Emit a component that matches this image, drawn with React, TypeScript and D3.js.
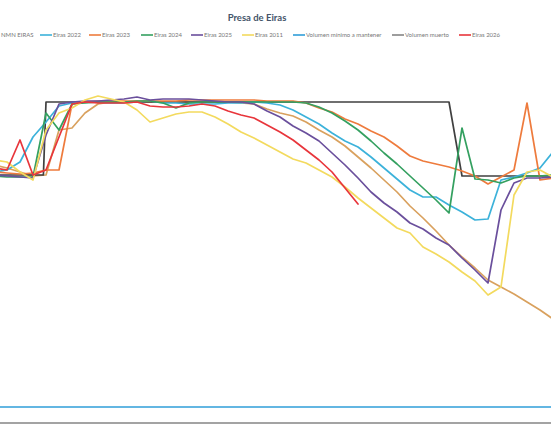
import React from 'react';
import * as d3 from 'd3';

// week index (x) for the weekly series
const WEEKS: number[] = d3.range(-1, 43);

const EIRAS_2017 = [26.6, 26.3, 25.9, 25.5, 25.6, 30.1, 30.3, 31.8, 32.7, 32.9, 32.9, 32.9, 32.9, 32.9, 32.9, 32.9, 32.9, 32.9, 32.9, 32.8, 32.7, 32.2, 31.8, 31.5, 30.9, 30.1, 29.4, 28.5, 27.4, 26.3, 25.1, 23.9, 22.5, 21.3, 20.0, 18.6, 17.4, 16.3, 15.1, 14.4, 13.7, 12.9, 12.1, 11.2];
const NMN_WEEKS = [-1, 2.8, 3, 34, 35, 42];
const NMN_VALUES = [25.6, 25.6, 32.9, 32.9, 25.5, 25.5];
const EIRAS_2022 = [25.9, 26.1, 26.9, 29.4, 30.9, 32.5, 32.8, 32.9, 32.9, 32.8, 32.8, 32.9, 33.0, 32.8, 32.8, 32.7, 32.7, 32.7, 32.8, 32.8, 32.9, 32.8, 32.6, 32.1, 31.4, 30.7, 29.8, 29.0, 28.4, 27.4, 26.3, 25.2, 24.1, 23.4, 23.4, 22.6, 21.9, 21.1, 21.2, 25.1, 25.4, 25.8, 26.3, 27.9];
const EIRAS_2023 = [25.9, 25.8, 25.7, 25.8, 26.1, 26.1, 32.7, 32.9, 33.0, 33.0, 33.0, 33.0, 33.0, 33.0, 33.0, 33.1, 33.1, 33.1, 33.1, 33.1, 33.1, 33.0, 33.0, 33.0, 32.8, 32.3, 31.9, 31.2, 30.7, 30.0, 29.4, 28.5, 27.5, 27.0, 26.7, 26.4, 26.0, 25.5, 24.7, 25.4, 26.1, 32.8, 25.1, 25.3];
const EIRAS_2024 = [25.5, 25.4, 25.4, 25.4, 31.8, 30.1, 32.7, 32.8, 32.9, 32.9, 32.9, 33.0, 33.0, 32.8, 32.3, 32.8, 32.9, 32.9, 32.9, 32.9, 32.9, 32.9, 32.9, 32.9, 32.8, 32.4, 31.8, 31.0, 30.1, 29.0, 27.8, 26.7, 25.5, 24.3, 23.1, 21.8, 30.3, 25.2, 25.1, 24.8, 25.3, 25.5, 25.5, 25.6];
const EIRAS_2025 = [25.6, 25.5, 25.4, 25.3, 29.6, 32.7, 32.9, 33.0, 33.0, 33.1, 33.2, 33.4, 33.1, 33.2, 33.2, 33.2, 33.1, 33.0, 32.9, 32.9, 32.7, 32.0, 31.4, 30.5, 29.8, 29.0, 27.8, 26.6, 25.3, 23.9, 22.8, 21.9, 20.8, 20.2, 19.3, 18.6, 17.3, 16.1, 14.8, 22.1, 24.8, 25.3, 25.3, 25.4];
const EIRAS_2011 = [27.1, 26.9, 25.9, 25.1, 30.1, 31.8, 32.3, 33.1, 33.5, 33.2, 32.9, 32.1, 30.9, 31.3, 31.7, 31.9, 31.9, 31.4, 30.7, 29.9, 29.3, 28.6, 27.9, 27.2, 26.8, 26.1, 25.4, 24.4, 23.3, 22.3, 21.3, 20.3, 19.8, 18.4, 17.7, 16.9, 15.9, 15.0, 13.6, 14.4, 23.6, 25.9, 26.1, 25.4];
const LIMIT_WEEKS = [-1, 42];
const VOL_MINIMO = [2.4, 2.4];
const VOL_MUERTO = [0.8, 0.8];
const EIRAS_2026 = [26.3, 26.1, 29.1, 25.6, 26.1, 29.4, 32.7, 32.9, 32.8, 32.8, 32.8, 32.9, 32.5, 32.4, 32.4, 32.5, 32.7, 32.5, 32.0, 31.6, 31.3, 30.6, 29.9, 29.1, 28.1, 27.1, 25.9, 24.3, 22.7];

const TITLE = 'Presa de Eiras';

type Series = { name: string; color: string; weeks: number[]; values: number[]; legendX: number | null };

export default function App() {
  const W = 551;
  const H = 431;
  const x = d3.scaleLinear().domain([-1, 42]).range([-6, 553]);
  const y = d3.scaleLinear().domain([0, 40]).range([431, 31]);
  const line = d3
    .line<[number, number]>()
    .x((d) => x(d[0]))
    .y((d) => y(d[1]));

  const series: Series[] = [
    { name: 'Eiras 2017', color: '#D9A15E', weeks: WEEKS, values: EIRAS_2017, legendX: null },
    { name: 'NMN EIRAS', color: '#404040', weeks: NMN_WEEKS, values: NMN_VALUES, legendX: -12 },
    { name: 'Eiras 2022', color: '#3CB2DA', weeks: WEEKS, values: EIRAS_2022, legendX: 40 },
    { name: 'Eiras 2023', color: '#EE7B3D', weeks: WEEKS, values: EIRAS_2023, legendX: 89 },
    { name: 'Eiras 2024', color: '#34A060', weeks: WEEKS, values: EIRAS_2024, legendX: 141 },
    { name: 'Eiras 2025', color: '#6A4F9C', weeks: WEEKS, values: EIRAS_2025, legendX: 191 },
    { name: 'Eiras 2011', color: '#F3DA5E', weeks: WEEKS, values: EIRAS_2011, legendX: 242 },
    { name: 'Volumen mínimo a mantener', color: '#2F9ED8', weeks: LIMIT_WEEKS, values: VOL_MINIMO, legendX: 293 },
    { name: 'Volumen muerto', color: '#858585', weeks: LIMIT_WEEKS, values: VOL_MUERTO, legendX: 392 },
    { name: 'Eiras 2026', color: '#E8353B', weeks: WEEKS, values: EIRAS_2026, legendX: 459 },
  ];

  return (
    <svg
      width={W}
      height={H}
      viewBox={`0 0 ${W} ${H}`}
      style={{ position: 'absolute', left: 0, top: 0, background: '#fff' }}
    >
      <rect x={0} y={0} width={W} height={H} fill="#fff" />
      <text
        x={257}
        y={21}
        textAnchor="middle"
        fontFamily="Lato, 'Open Sans', sans-serif"
        fontWeight="bold"
        fontSize={9.5}
        fill="#44546A"
      >
        {TITLE}
      </text>
      <g fontFamily="Lato, 'Open Sans', sans-serif" fontSize={6} fill="#777">
        {series
          .filter((s) => s.legendX !== null)
          .map((s) => (
            <g key={s.name}>
              <line
                x1={s.legendX as number}
                x2={(s.legendX as number) + 12}
                y1={35}
                y2={35}
                stroke={s.color}
                strokeWidth={1.6}
              />
              <text x={(s.legendX as number) + 13} y={37}>
                {s.name}
              </text>
            </g>
          ))}
      </g>
      <g fill="none" strokeWidth={1.7} strokeLinejoin="round" strokeLinecap="round">
        {series.map((s) => (
          <path
            key={s.name}
            d={line(s.values.map((v, i) => [s.weeks[i], v] as [number, number])) || ''}
            stroke={s.color}
          />
        ))}
      </g>
    </svg>
  );
}
